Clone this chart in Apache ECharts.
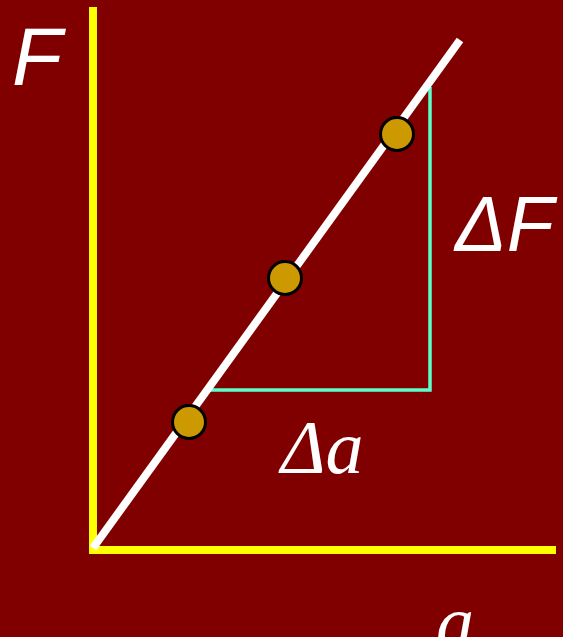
<!DOCTYPE html>
<html>
<head>
<meta charset="utf-8">
<script src="https://cdn.jsdelivr.net/npm/echarts@6/dist/echarts.min.js"></script>
<style>
  html, body { margin: 0; padding: 0; background: #800000; }
  #chart { width: 563px; height: 637px; }
</style>
</head>
<body>
<div id="chart"></div>
<script>
// straight line F = k * a, drawn from the origin up to its end
const lineA = [0, 367];
const lineF = [2, 510];

// the three measured points on the line
const pointA = [96, 192, 304];
const pointF = [128, 272, 416];

// slope triangle: horizontal leg then vertical leg
const triA = [112, 337, 337];
const triF = [160, 160, 463];

const chart = echarts.init(document.getElementById('chart'));

const option = {
  backgroundColor: '#800000',
  animation: false,
  grid: { left: 93, right: 7, top: 11, bottom: 87 },
  xAxis: {
    type: 'value',
    min: 0,
    max: 463,
    axisLine: { show: true, onZero: false, lineStyle: { color: '#ffff00', width: 8, cap: 'butt' } },
    axisTick: { show: false },
    axisLabel: { show: false },
    splitLine: { show: false }
  },
  yAxis: {
    type: 'value',
    min: 0,
    max: 539,
    axisLine: { show: true, onZero: false, lineStyle: { color: '#ffff00', width: 8, cap: 'square' } },
    axisTick: { show: false },
    axisLabel: { show: false },
    splitLine: { show: false }
  },
  series: [
    {
      type: 'line',
      data: triA.map((a, i) => [a, triF[i]]),
      symbol: 'none',
      lineStyle: { color: '#5cffc8', width: 3.5, cap: 'butt', join: 'miter' },
      z: 2
    },
    {
      type: 'line',
      data: lineA.map((a, i) => [a, lineF[i]]),
      symbol: 'none',
      lineStyle: { color: '#ffffff', width: 8, cap: 'butt' },
      z: 3
    },
    {
      type: 'scatter',
      data: pointA.map((a, i) => [a, pointF[i]]),
      symbolSize: 33,
      itemStyle: { color: '#cc9900', borderColor: '#000000', borderWidth: 3, opacity: 1 },
      z: 4
    }
  ],
  graphic: [
    {
      type: 'text', left: 12, top: 21,
      style: { text: 'F', font: 'italic 82px "Liberation Sans"', fill: '#ffffff' }
    },
    {
      type: 'text', left: 455, top: 191,
      style: { text: 'ΔF', font: 'italic 77px "Liberation Sans"', fill: '#ffffff' }
    },
    {
      type: 'text', left: 281, top: 415,
      style: { text: 'Δa', font: 'italic 76px "Liberation Serif"', fill: '#ffffff' }
    },
    {
      type: 'text', left: 436, top: 590,
      style: { text: 'a', font: 'italic 76px "Liberation Serif"', fill: '#ffffff' }
    }
  ]
};

chart.setOption(option);
</script>
</body>
</html>
